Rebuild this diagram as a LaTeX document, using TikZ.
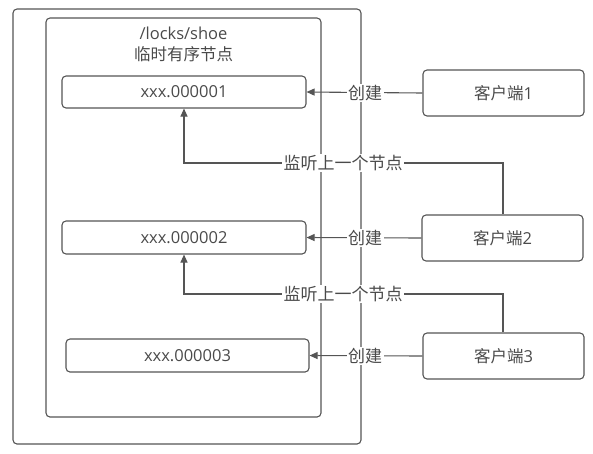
\documentclass[tikz,border=0pt]{standalone}
\usepackage{fontspec}
\setmainfont{Open Sans}
\newfontfamily\cjk{Noto Sans CJK SC}
\usetikzlibrary{arrows.meta}
\definecolor{ln}{HTML}{555555}
\definecolor{tx}{HTML}{4A4A4A}
\begin{document}
\begin{tikzpicture}[x=1pt,y=-1pt,
  box/.style={draw=ln,line width=1.1pt,rounded corners=4pt,inner sep=0pt,text=tx,font=\fontsize{16.5}{18}\selectfont},
  conn/.style={draw=ln,line width=1.1pt},
  arr/.style={conn,-{Triangle[length=8pt,width=7pt]}},
  lab/.style={fill=white,text=tx,inner sep=1.5pt,font=\fontsize{17}{18}\selectfont\cjk}]
\useasboundingbox (0,0) rectangle (593,453);
\node[box,minimum width=348pt,minimum height=435pt] (outer) at (187,226.5) {};
\node[box,minimum width=275pt,minimum height=399pt] (inner) at (183.5,217.5) {};
\node[text=tx,align=center,font=\fontsize{16.5}{21}\selectfont] (title) at (183.5,44) {/locks/shoe\\{\cjk 临时有序节点}};
\node[box,minimum width=244pt,minimum height=32pt] (n1) at (184,92) {xxx.000001};
\node[box,minimum width=244pt,minimum height=33pt] (n2) at (184,237.5) {xxx.000002};
\node[box,minimum width=243pt,minimum height=33pt] (n3) at (187.5,355.5) {xxx.000003};
\node[box,minimum width=161pt,minimum height=46pt] (c1) at (503.5,93) {{\cjk 客户端}1};
\node[box,minimum width=161pt,minimum height=46pt] (c2) at (502.5,238) {{\cjk 客户端}2};
\node[box,minimum width=161pt,minimum height=46pt] (c3) at (503.5,356) {{\cjk 客户端}3};
\coordinate (k1) at (503,163);
\coordinate (k2) at (503,294);
% create arrows
\draw[arr] (c1.west) -- (n1.east);
\draw[arr] (c2.west) -- (n2.east);
\draw[arr] (c3.west) -- (n3.east);
% listen arrows
\draw[arr] (c2.north -| k1) -- (k1) -- (k1 -| n1.south) -- (n1.south);
\draw[arr] (c3.north -| k2) -- (k2) -- (k2 -| n2.south) -- (n2.south);
% labels
\node[lab] (l1) at (365,93) {创建};
\node[lab] (l2) at (365,238) {创建};
\node[lab] (l3) at (365,356) {创建};
\node[lab] (m1) at (343,163) {监听上一个节点};
\node[lab] (m2) at (343,294) {监听上一个节点};
\end{tikzpicture}
\end{document}
